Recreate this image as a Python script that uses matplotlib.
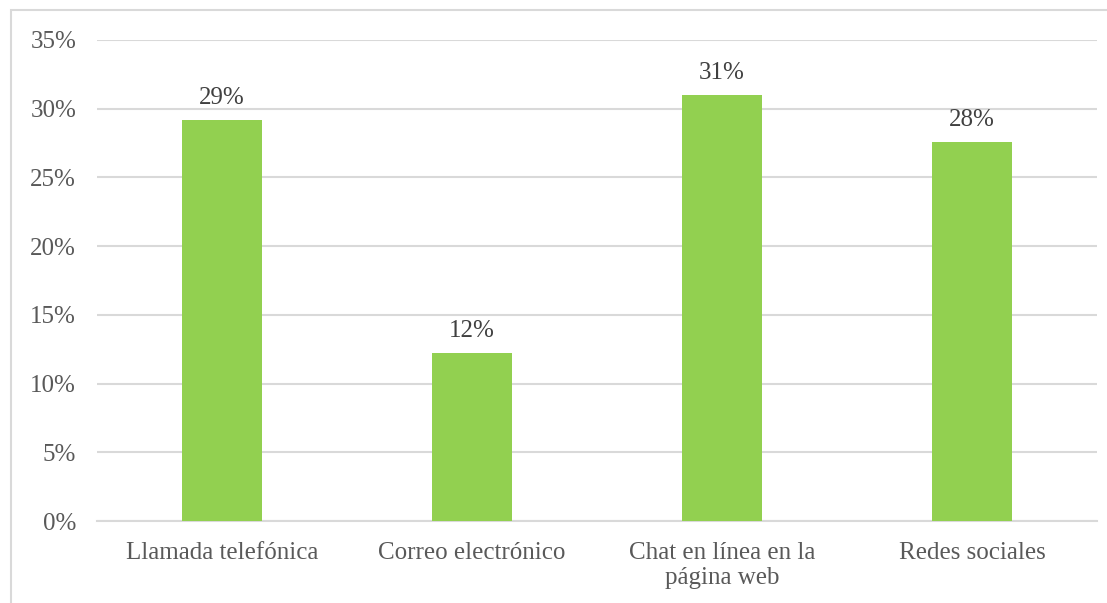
import matplotlib.pyplot as plt
from matplotlib.patches import Rectangle
from matplotlib.ticker import PercentFormatter

# Canales de contacto y porcentaje de preferencia
canales = ["Llamada telefónica", "Correo electrónico",
           "Chat en línea en la\npágina web", "Redes sociales"]
porcentajes = [0.292, 0.122, 0.310, 0.276]
yticks = [0.00, 0.05, 0.10, 0.15, 0.20, 0.25, 0.30, 0.35]

plt.rcParams["font.family"] = ["Liberation Serif", "DejaVu Serif"]

fig = plt.figure(figsize=(11.07, 6.03), dpi=100)
ax = fig.add_axes([97 / 1107, 82 / 603, 1000 / 1107, 481 / 603])

x = range(len(canales))
bars = ax.bar(x, porcentajes, width=0.32, color="#92D050", zorder=3)

for b, v in zip(bars, porcentajes):
    ax.annotate(f"{v:.0%}", (b.get_x() + b.get_width() / 2, v),
                xytext=(0, 8), textcoords="offset points",
                ha="center", va="bottom", fontsize=18, color="#404040")

ax.set_xlim(-0.5, len(canales) - 0.5)
ax.set_ylim(0, 0.35)
ax.set_yticks(yticks)
ax.yaxis.set_major_formatter(PercentFormatter(1.0, decimals=0))
ax.set_xticks(list(x))
ax.set_xticklabels(canales, linespacing=1.2)

ax.grid(axis="y", color="#D9D9D9", linewidth=1.5, zorder=0)
for s in ["top", "right", "left"]:
    ax.spines[s].set_visible(False)
ax.spines["bottom"].set_color("#D9D9D9")
ax.spines["bottom"].set_linewidth(1.5)

ax.tick_params(axis="both", length=0, labelsize=18, colors="#595959")
ax.tick_params(axis="y", pad=15)
ax.tick_params(axis="x", pad=15)

# marco del gráfico
fig.patches.append(Rectangle((11 / 1107, -0.1), 1.2, (593 / 603) + 0.1,
                             transform=fig.transFigure, fill=False,
                             edgecolor="#D9D9D9", linewidth=1.5))

fig.savefig("out.png", dpi=100)
